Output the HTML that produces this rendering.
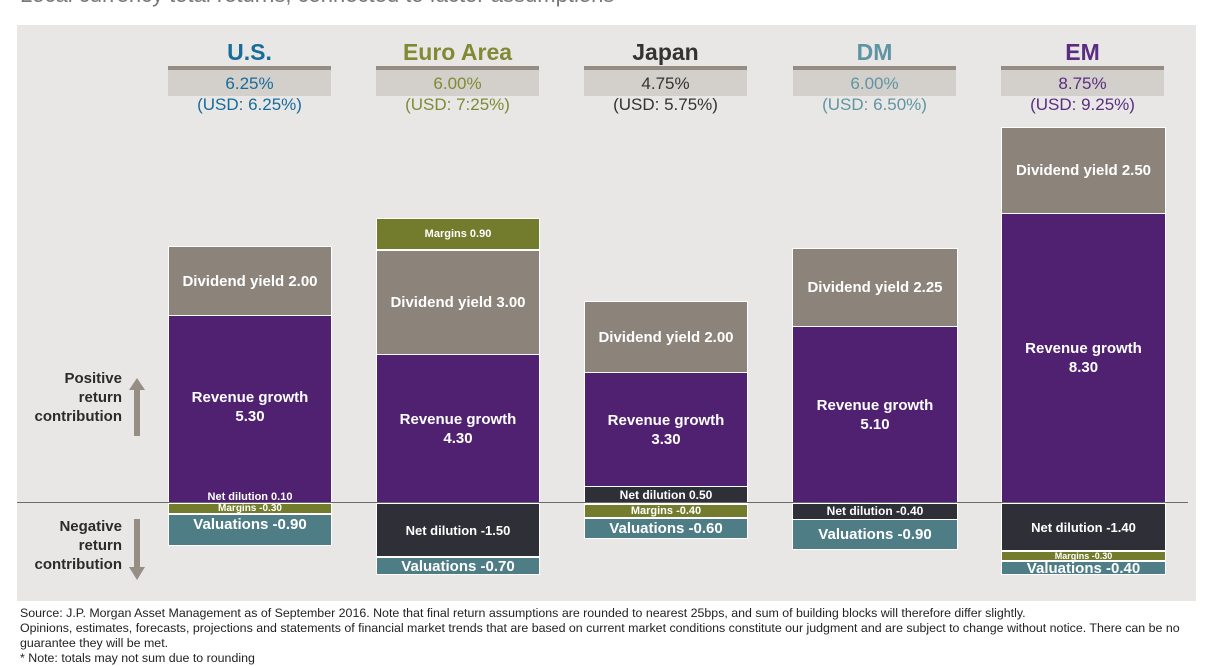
<!DOCTYPE html><html><head><style>
body{margin:0;width:1209px;height:664px;background:#fff;position:relative;overflow:hidden;font-family:"Liberation Sans",sans-serif}
.a{position:absolute}
.p{left:17px;top:25px;width:1179px;height:576px;background:#e8e7e6}
.s{position:absolute;box-sizing:border-box;border:1px solid #fff;color:#fff;font-weight:bold;text-align:center;display:flex;align-items:center;justify-content:center;font-size:15px;line-height:19px;overflow:hidden;white-space:nowrap}
.g{background:#8c837a}.u{background:#4f2170}.o{background:#737b2c}.t{background:#4f7d86}.d{background:#2f2f38}
.h{font-weight:bold;font-size:23px;text-align:center;width:163px}
.bx{width:163px;height:26px;background:#d3d0cb;border-top:4px solid #958c83;text-align:center;font-size:17px;line-height:28px}
.us{text-align:center;width:163px;font-size:17px}
.lab{font-weight:bold;font-size:15px;color:#2b2b2b;text-align:right;line-height:19px}
</style></head><body>
<div class="a" style="left:20px;top:-18px;font-size:22px;color:#777">Local currency total returns, connected to factor assumptions</div>
<div class="a p"></div>
<div class="a h" style="left:168px;top:39px;color:#166c9b">U.S.</div>
<div class="a bx" style="left:168px;top:66px;color:#166c9b">6.25%</div>
<div class="a us" style="left:168px;top:95px;color:#166c9b">(USD: 6.25%)</div>
<div class="a h" style="left:376px;top:39px;color:#7f8a33">Euro Area</div>
<div class="a bx" style="left:376px;top:66px;color:#7f8a33">6.00%</div>
<div class="a us" style="left:376px;top:95px;color:#7f8a33">(USD: 7:25%)</div>
<div class="a h" style="left:584px;top:39px;color:#333">Japan</div>
<div class="a bx" style="left:584px;top:66px;color:#333">4.75%</div>
<div class="a us" style="left:584px;top:95px;color:#333">(USD: 5.75%)</div>
<div class="a h" style="left:793px;top:39px;color:#5f95a3">DM</div>
<div class="a bx" style="left:793px;top:66px;color:#5f95a3">6.00%</div>
<div class="a us" style="left:793px;top:95px;color:#5f95a3">(USD: 6.50%)</div>
<div class="a h" style="left:1001px;top:39px;color:#5a2d82">EM</div>
<div class="a bx" style="left:1001px;top:66px;color:#5a2d82">8.75%</div>
<div class="a us" style="left:1001px;top:95px;color:#5a2d82">(USD: 9.25%)</div>
<div class="s g" style="left:168px;top:246px;width:164px;height:70px">Dividend yield 2.00</div>
<div class="s u" style="left:168px;top:315px;width:164px;height:184px">Revenue growth<br>5.30</div>
<div class="s u" style="left:168px;top:492px;width:164px;height:11px;font-size:11px;border-top:0">Net dilution 0.10</div>
<div class="s o" style="left:168px;top:503px;width:164px;height:11px;font-size:10px">Margins -0.30</div>
<div class="s t" style="left:168px;top:514px;width:164px;height:32px;align-items:flex-start">Valuations -0.90</div>
<div class="s o" style="left:376px;top:218px;width:164px;height:32px;font-size:11px">Margins 0.90</div>
<div class="s g" style="left:376px;top:250px;width:164px;height:105px">Dividend yield 3.00</div>
<div class="s u" style="left:376px;top:354px;width:164px;height:149px">Revenue growth<br>4.30</div>
<div class="s d" style="left:376px;top:503px;width:164px;height:54px;font-size:13px">Net dilution -1.50</div>
<div class="s t" style="left:376px;top:557px;width:164px;height:18px">Valuations -0.70</div>
<div class="s g" style="left:584px;top:301px;width:164px;height:72px">Dividend yield 2.00</div>
<div class="s u" style="left:584px;top:372px;width:164px;height:115px">Revenue growth<br>3.30</div>
<div class="s d" style="left:584px;top:486px;width:164px;height:18px;font-size:12px">Net dilution 0.50</div>
<div class="s o" style="left:584px;top:504px;width:164px;height:14px;font-size:11px">Margins -0.40</div>
<div class="s t" style="left:584px;top:518px;width:164px;height:21px">Valuations -0.60</div>
<div class="s g" style="left:792px;top:248px;width:166px;height:79px">Dividend yield 2.25</div>
<div class="s u" style="left:792px;top:326px;width:166px;height:177px">Revenue growth<br>5.10</div>
<div class="s d" style="left:792px;top:503px;width:166px;height:17px;font-size:12px">Net dilution -0.40</div>
<div class="s t" style="left:792px;top:519px;width:166px;height:31px">Valuations -0.90</div>
<div class="s g" style="left:1001px;top:127px;width:165px;height:87px">Dividend yield 2.50</div>
<div class="s u" style="left:1001px;top:213px;width:165px;height:290px">Revenue growth<br>8.30</div>
<div class="s d" style="left:1001px;top:503px;width:165px;height:48px;font-size:13px">Net dilution -1.40</div>
<div class="s o" style="left:1001px;top:551px;width:165px;height:10px;font-size:9px">Margins -0.30</div>
<div class="s t" style="left:1001px;top:561px;width:165px;height:14px">Valuations -0.40</div>
<div class="a" style="left:17px;top:502px;width:1171px;height:1px;background:#6b6b6b"></div>
<div class="a lab" style="left:20px;top:369px;width:102px">Positive<br>return<br>contribution</div>
<div class="a lab" style="left:20px;top:517px;width:102px">Negative<br>return<br>contribution</div>
<svg class="a" style="left:127px;top:378px" width="20" height="60"><polygon points="10,0 18,12 13,12 13,58 7,58 7,12 2,12" fill="#968d83"/></svg>
<svg class="a" style="left:127px;top:519px" width="20" height="62"><polygon points="7,0 13,0 13,48 18,48 10,61 2,48 7,48" fill="#968d83"/></svg>
<div class="a" style="left:20px;top:606px;font-size:12.4px;line-height:15px;color:#222;white-space:nowrap">Source: J.P. Morgan Asset Management as of September 2016. Note that final return assumptions are rounded to nearest 25bps, and sum of building blocks will therefore differ slightly.<br>Opinions, estimates, forecasts, projections and statements of financial market trends that are based on current market conditions constitute our judgment and are subject to change without notice. There can be no<br>guarantee they will be met.<br>* Note: totals may not sum due to rounding</div>
</body></html>
